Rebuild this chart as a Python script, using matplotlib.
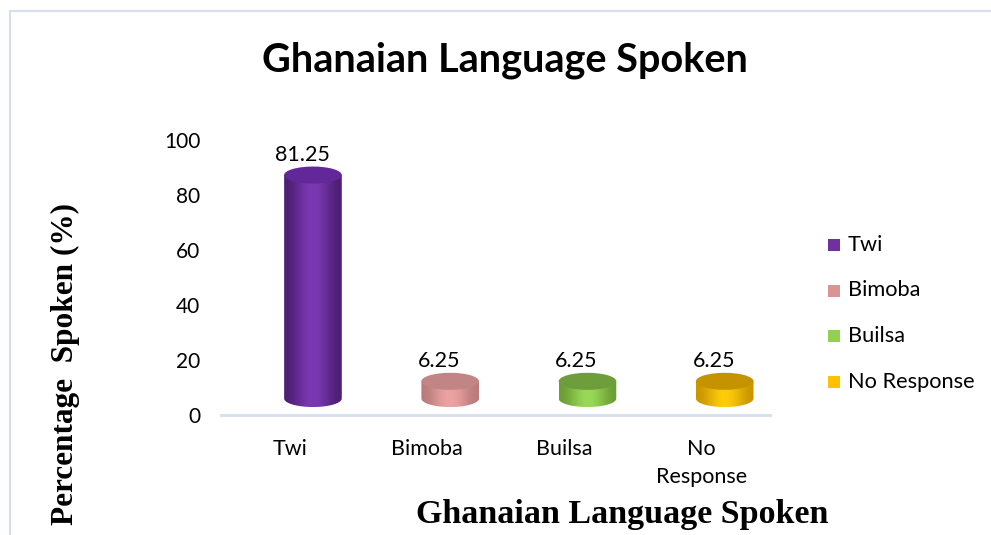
import matplotlib.pyplot as plt
import numpy as np
from matplotlib.patches import Ellipse, Rectangle, PathPatch
from matplotlib.path import Path
from matplotlib.lines import Line2D
from matplotlib.colors import LinearSegmentedColormap

categories = ["Twi", "Bimoba", "Builsa", "No Response"]
tick_labels = ["Twi", "Bimoba", "Builsa", "No\nResponse"]
values = [81.25, 6.25, 6.25, 6.25]
value_labels = ["81.25", "6.25", "6.25", "6.25"]
legend_colors = ["#7030A0", "#D99594", "#92D050", "#FFC000"]
# (edge, middle, top face) shades for the cylinder bodies
body_shades = [
    ("#4E1F73", "#7B38B3", "#62289A"),
    ("#B97B7B", "#EBA3A2", "#C08584"),
    ("#6C9E36", "#9AD957", "#6E9E3B"),
    ("#C99700", "#FFCB0A", "#C69300"),
]

W, H = 991, 535
fig = plt.figure(figsize=(W / 100, H / 100), dpi=100)
plt.rcParams["font.family"] = ["Lato", "DejaVu Sans"]

# chart border (only top and left are inside the picture)
bc = "#D5DFEE"
fig.lines.append(Line2D([10 / W, 10 / W], [0, (H - 11) / H], transform=fig.transFigure,
                        color=bc, linewidth=1.5))
fig.lines.append(Line2D([10 / W, 1], [(H - 11) / H, (H - 11) / H], transform=fig.transFigure,
                        color=bc, linewidth=1.5))

# axes: x -0.5..3.5 spans px 221..770 ; y 0..100 spans px 415..140
ax = fig.add_axes([221 / W, (H - 415) / H, (770 - 221) / W, (415 - 140) / H])
ax.set_xlim(-0.5, 3.5)
ax.set_ylim(0, 100)
ax.patch.set_alpha(0)
for s in ["top", "right", "left"]:
    ax.spines[s].set_visible(False)
ax.spines["bottom"].set_color(bc)
ax.spines["bottom"].set_linewidth(2)
ax.set_yticks([0, 20, 40, 60, 80, 100])
ax.tick_params(axis="y", length=0, labelsize=15, pad=15)
ax.set_xticks(range(len(categories)))
ax.set_xticklabels(tick_labels, fontsize=15.5, linespacing=1.5)
ax.tick_params(axis="x", length=0, pad=17)

# 3D cylinders (depth offset right and up)
dx, dy = 0.17, 6.0
cw = 0.42
eh = 6.2
for i, v in enumerate(values):
    cx = i + dx
    y0 = dy
    y1 = dy + v
    edge, mid, top = body_shades[i]
    # body path: rectangle plus bottom half ellipse
    t = np.linspace(np.pi, 2 * np.pi, 60)
    bx = cx + cw / 2 * np.cos(t)
    by = y0 + eh / 2 * np.sin(t)
    verts = [(cx - cw / 2, y1)] + list(zip(bx, by)) + [(cx + cw / 2, y1), (cx - cw / 2, y1)]
    clip = PathPatch(Path(verts), transform=ax.transData, facecolor="none", edgecolor="none")
    ax.add_patch(clip)
    g = np.linspace(0, 1, 256)
    g = 0.5 - 0.5 * np.cos(g * 2 * np.pi)
    img = ax.imshow(g.reshape(1, -1), cmap=LinearSegmentedColormap.from_list("c", [edge, mid], N=256),
                    extent=[cx - cw / 2, cx + cw / 2, y0 - eh / 2, y1], aspect="auto",
                    interpolation="bilinear", zorder=2)
    img.set_clip_path(clip)
    ax.add_patch(Ellipse((cx, y1), cw, eh, facecolor=top, edgecolor="none", zorder=3))
    ax.text(i + 0.09, y1 + eh / 2 + 4.2, value_labels[i], ha="center", va="center", fontsize=15.5)

ax.set_xlim(-0.5, 3.5)
ax.set_ylim(0, 100)

# legend
for i, (c, lab) in enumerate(zip(legend_colors, categories)):
    yy = 245 + i * 45.5
    fig.patches.append(Rectangle((828 / W, (H - yy - 6) / H), 12 / W, 12 / H,
                                 transform=fig.transFigure, facecolor=c, edgecolor="none"))
    fig.text(848 / W, (H - yy) / H, lab, fontsize=15.7, va="center", ha="left")

# titles
fig.text(505 / W, (H - 60) / H, "Ghanaian Language Spoken", fontsize=28.5, fontweight="bold",
         ha="center", va="center")
fig.text(622 / W, (H - 514) / H, "Ghanaian Language Spoken", fontsize=24.5, fontweight="bold",
         ha="center", va="center", family="Liberation Serif")
fig.text(65 / W, (H - 203) / H, "Percentage  Spoken (%)", fontsize=22.5, fontweight="bold",
         rotation=90, ha="center", va="top", family="Liberation Serif")

plt.savefig("out.png", dpi=100)
